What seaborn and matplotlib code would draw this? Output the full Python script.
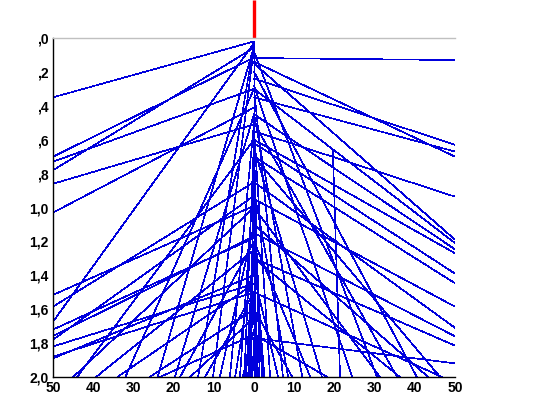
import matplotlib
matplotlib.use("Agg")
import matplotlib.pyplot as plt
import seaborn as sns
import pandas as pd

# rays from the centre line (x = 0) out to the left edge (x = -50)
left_start = [0.02, 0.115, 0.30, 0.057, 0.51, 0.41, 0.03, 0.99, 0.85, 1.18, 1.17, 0.93, 1.45, 1.50, 1.40]
left_end = [0.35, 0.70, 0.73, 0.78, 0.86, 1.03, 1.674, 1.516, 1.585, 1.72, 1.758, 1.78, 1.82, 1.88, 1.89]

# rays out to the right edge (x = 50)
right_start = [0.118, 0.24, 0.35, 0.14, 0.55, 0.15, 0.30, 0.45, 0.60, 0.62, 0.70, 0.95, 0.85, 1.15, 1.30, 1.77]
right_end = [0.13, 0.63, 0.67, 0.70, 0.936, 1.19, 1.21, 1.247, 1.27, 1.39, 1.447, 1.585, 1.71, 1.76, 1.815, 1.92]

# rays down to the bottom (depth 2.0)
bottom_start = [1.0, 0.6, 1.25, 1.45, 0.3, 1.6, 0.05, 1.75, 0.45, 1.2, 1.65, 0.03, 1.5, 0.05, 1.1, 0.5, 1.3, 0.8, 1.6,
                1.0, 0.55, 1.4, 0.3, 0.9, 1.6, 0.45, 1.2, 0.65, 1.75, 0.28, 0.08, 1.0, 0.5, 1.3, 0.2, 1.1, 0.7, 1.5]
bottom_x = [-45, -44, -39.3, -34, -32, -26, -24, -23.4, -19.7, -18.4, -15.9, -13.9, -12.2, -10.2, -8.5, -6, -4.7, -3.5, -2.2,
            2, 4, 6, 7.2, 8.5, 9.5, 12, 14, 16.9, 18.2, 24.4, 30.6, 31.3, 35.6, 36.3, 40.5, 43.3, 46.3, 46.8]

# near vertical rays of the central bundle
core_start = [0.02, 0.45, 0.62, 0.85, 1.02, 1.2, 1.35, 1.5, 1.62, 1.78, 1.9, 0.6, 0.98, 1.25, 1.72]
core_x = [0, -0.8, 1.4, -1.2, 0.6, -2.0, 1.0, -1.5, 0.4, -0.4, 0.2, -2.4, 2.2, 2.6, -2.8]

# the one bent line near x = 20
bent_x = [19.6, 21.4]
bent_y = [0.66, 2.0]

# red marker above the plot
marker_y = [-0.225, 0.0]

x_ticks = [-50, -40, -30, -20, -10, 0, 10, 20, 30, 40, 50]
x_labels = ["50", "40", "30", "20", "10", "0", "10", "20", "30", "40", "50"]
y_ticks = [0.0, 0.2, 0.4, 0.6, 0.8, 1.0, 1.2, 1.4, 1.6, 1.8, 2.0]
y_labels = [",0", ",2", ",4", ",6", ",8", "1,0", "1,2", "1,4", "1,6", "1,8", "2,0"]

# build one long table, one unit per ray
rows = []
n = 0
for y0, y1 in zip(left_start, left_end):
    rows += [(n, 0, y0), (n, -50, y1)]
    n += 1
for y0, y1 in zip(right_start, right_end):
    rows += [(n, 0, y0), (n, 50, y1)]
    n += 1
for y0, x1 in zip(bottom_start, bottom_x):
    rows += [(n, 0, y0), (n, x1, 2.0)]
    n += 1
for y0, x1 in zip(core_start, core_x):
    rows += [(n, 0, y0), (n, x1, 2.0)]
    n += 1
rows += [(n, bent_x[0], bent_y[0]), (n, bent_x[1], bent_y[1])]
df = pd.DataFrame(rows, columns=["ray", "x", "y"])

sns.set_style("white")
plt.rcParams["font.family"] = ["Liberation Sans", "DejaVu Sans"]

fig = plt.figure(figsize=(5.34, 3.96), dpi=100)
ax = fig.add_axes([0.0993, 0.048, 0.7528, 0.856])

sns.lineplot(data=df, x="x", y="y", units="ray", estimator=None, sort=False,
             color="#0000dd", lw=0.45, antialiased=False, ax=ax, legend=False)

ax.plot([0, 0], marker_y, color="red", lw=2.4, clip_on=False, solid_capstyle="butt")

ax.set_xlim(-50, 50)
ax.set_ylim(2.0, 0.0)
ax.set_xticks(x_ticks)
ax.set_xticklabels(x_labels, fontweight="bold", fontsize=10)
ax.set_yticks(y_ticks)
ax.set_yticklabels(y_labels, fontweight="bold", fontsize=10)
ax.set_xlabel("")
ax.set_ylabel("")
ax.tick_params(direction="in", length=5, width=1, colors="black", pad=3)

ax.spines["right"].set_visible(False)
ax.spines["top"].set_color("#c0c0c0")
ax.spines["left"].set_color("black")
ax.spines["bottom"].set_color("black")
for s in ["left", "bottom", "top"]:
    ax.spines[s].set_linewidth(1.0)

fig.savefig("out.png", dpi=100)
